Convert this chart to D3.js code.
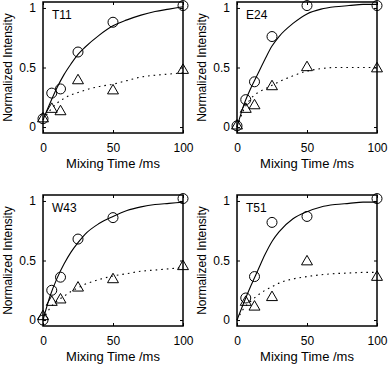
<!DOCTYPE html>
<html lang="en">
<head>
    <meta charset="UTF-8">
    <title>Normalized Intensity vs Mixing Time</title>
    <script src="https://d3js.org/d3.v7.min.js"></script>
    <style>
        body { margin: 0; background: #fff; }
        svg { display: block; font-family: "Liberation Sans", Arial, sans-serif; }
    </style>
    <script>
        // panel names
        const PANELS = ['T11', 'E24', 'W43', 'T51'];

        // measured points (circles = solid fit, triangles = dotted fit)
        const CIRCLE_T = [
            [0, 6.25, 12.5, 25, 50, 100],
            [0, 6.25, 12.5, 25, 50, 100],
            [0, 6.25, 12.5, 25, 50, 100],
            [6.25, 12.5, 25, 50, 100]
        ];
        const CIRCLE_Y = [
            [0.07, 0.285, 0.32, 0.63, 0.88, 1.02],
            [0.01, 0.23, 0.38, 0.76, 1.02, 1.02],
            [0.0, 0.25, 0.36, 0.68, 0.86, 1.02],
            [0.185, 0.365, 0.82, 0.87, 1.02]
        ];
        const TRI_T = [
            [0, 6.25, 12.5, 25, 50, 100],
            [0, 6.25, 12.5, 25, 50, 100],
            [0, 6.25, 12.5, 25, 50, 100],
            [6.25, 12.5, 25, 50, 100]
        ];
        const TRI_Y = [
            [0.07, 0.15, 0.13, 0.39, 0.305, 0.477],
            [0.01, 0.15, 0.18, 0.34, 0.5, 0.49],
            [0.03, 0.15, 0.17, 0.27, 0.34, 0.45],
            [0.15, 0.11, 0.19, 0.49, 0.36]
        ];

        // fitted curves
        const FIT_T = [0, 5, 10, 15, 20, 25, 30, 40, 50, 60, 70, 80, 90, 100];
        const SOLID_Y = [
            [0.06, 0.2, 0.33, 0.44, 0.53, 0.61, 0.67, 0.77, 0.85, 0.9, 0.94, 0.97, 0.99, 1.01],
            [0.0, 0.19, 0.33, 0.45, 0.57, 0.68, 0.76, 0.87, 0.95, 0.99, 1.01, 1.02, 1.03, 1.03],
            [0.0, 0.2, 0.35, 0.47, 0.57, 0.65, 0.72, 0.81, 0.87, 0.92, 0.95, 0.97, 0.98, 0.99],
            [0.0, 0.15, 0.29, 0.42, 0.55, 0.66, 0.74, 0.85, 0.91, 0.95, 0.97, 0.98, 0.99, 0.99]
        ];
        const DOTTED_Y = [
            [0.06, 0.14, 0.2, 0.24, 0.27, 0.29, 0.31, 0.34, 0.36, 0.39, 0.42, 0.435, 0.445, 0.455],
            [0.0, 0.15, 0.24, 0.29, 0.32, 0.35, 0.38, 0.43, 0.47, 0.49, 0.5, 0.5, 0.5, 0.5],
            [0.0, 0.1, 0.16, 0.2, 0.24, 0.27, 0.3, 0.34, 0.37, 0.39, 0.41, 0.42, 0.43, 0.44],
            [0.0, 0.1, 0.16, 0.21, 0.25, 0.28, 0.31, 0.345, 0.365, 0.38, 0.39, 0.395, 0.4, 0.4]
        ];

        const X_TICKS = [0, 50, 100];
        const Y_TICKS = [0, 0.5, 1];

        document.addEventListener("DOMContentLoaded", function() {
            draw();
        });

        function draw() {
            const width = 389;
            const height = 366;
            const plotW = 140;
            const plotH = 131;
            const lefts = [43, 237];
            const tops = [2, 195];

            const svg = d3.select('#graph')
                .attr("width", width)
                .attr("height", height);

            const xScale = d3.scaleLinear().domain([0, 100]).range([0, plotW]);
            const yScale = d3.scaleLinear().domain([-0.05, 1.05]).range([plotH, 0]);

            const line = d3.line()
                .x(function(d) { return xScale(d[0]); })
                .y(function(d) { return yScale(d[1]); })
                .curve(d3.curveMonotoneX);

            PANELS.forEach(function(name, i) {
                const g = svg.append("g")
                    .attr("transform", "translate(" + lefts[i % 2] + "," + tops[Math.floor(i / 2)] + ")");

                // axes, ticks pointing inward like the original
                g.append("g")
                    .attr("transform", "translate(0," + plotH + ")")
                    .call(d3.axisBottom(xScale).tickValues(X_TICKS).tickSizeInner(-3).tickSizeOuter(0).tickPadding(10));
                g.append("g")
                    .call(d3.axisLeft(yScale).tickValues(Y_TICKS).tickFormat(d3.format("")).tickSizeInner(-3).tickSizeOuter(0).tickPadding(7));
                g.append("g")
                    .call(d3.axisTop(xScale).tickValues(X_TICKS).tickFormat("").tickSizeInner(-3).tickSizeOuter(0));
                g.append("g")
                    .attr("transform", "translate(" + plotW + ",0)")
                    .call(d3.axisRight(yScale).tickValues(Y_TICKS).tickFormat("").tickSizeInner(-3).tickSizeOuter(0));

                g.selectAll(".domain").remove();
                g.selectAll(".tick text")
                    .attr("font-size", 12)
                    .attr("font-family", "Liberation Sans, Arial, sans-serif")
                    .attr("fill", "#000");
                g.selectAll(".tick line").attr("stroke", "#000");

                g.append("rect")
                    .attr("width", plotW)
                    .attr("height", plotH)
                    .attr("fill", "none")
                    .attr("stroke", "#000")
                    .attr("stroke-width", 1.5);

                // fitted curves
                const solid = FIT_T.map(function(t, k) { return [t, SOLID_Y[i][k]]; });
                const dotted = FIT_T.map(function(t, k) { return [t, DOTTED_Y[i][k]]; });

                g.append("path")
                    .attr("d", line(solid))
                    .attr("fill", "none")
                    .attr("stroke", "#000")
                    .attr("stroke-width", 1.1);
                g.append("path")
                    .attr("d", line(dotted))
                    .attr("fill", "none")
                    .attr("stroke", "#000")
                    .attr("stroke-width", 1.1)
                    .attr("stroke-dasharray", "1.6,4");

                // points
                const circles = CIRCLE_T[i].map(function(t, k) { return [t, CIRCLE_Y[i][k]]; });
                const tris = TRI_T[i].map(function(t, k) { return [t, TRI_Y[i][k]]; });

                g.selectAll(".tri")
                    .data(tris)
                    .enter()
                    .append("path")
                    .attr("d", d3.symbol(d3.symbolTriangle, 52))
                    .attr("transform", function(d) { return "translate(" + xScale(d[0]) + "," + yScale(d[1]) + ")"; })
                    .attr("fill", "none")
                    .attr("stroke", "#000")
                    .attr("stroke-width", 1);

                g.selectAll(".circ")
                    .data(circles)
                    .enter()
                    .append("circle")
                    .attr("cx", function(d) { return xScale(d[0]); })
                    .attr("cy", function(d) { return yScale(d[1]); })
                    .attr("r", 5)
                    .attr("fill", "none")
                    .attr("stroke", "#000")
                    .attr("stroke-width", 1);

                // labels
                g.append("text")
                    .attr("x", 9)
                    .attr("y", 17)
                    .attr("font-size", 12)
                    .text(name);

                g.append("text")
                    .attr("x", plotW / 2)
                    .attr("y", plotH + 35)
                    .attr("text-anchor", "middle")
                    .attr("font-size", 13)
                    .text("Mixing Time /ms");

                g.append("text")
                    .attr("transform", "translate(-31," + (plotH / 2) + ") rotate(-90)")
                    .attr("text-anchor", "middle")
                    .attr("font-size", 12)
                    .text("Normalized Intensity");
            });
        }
    </script>
</head>
<body>
    <svg id="graph"></svg>
</body>
</html>
